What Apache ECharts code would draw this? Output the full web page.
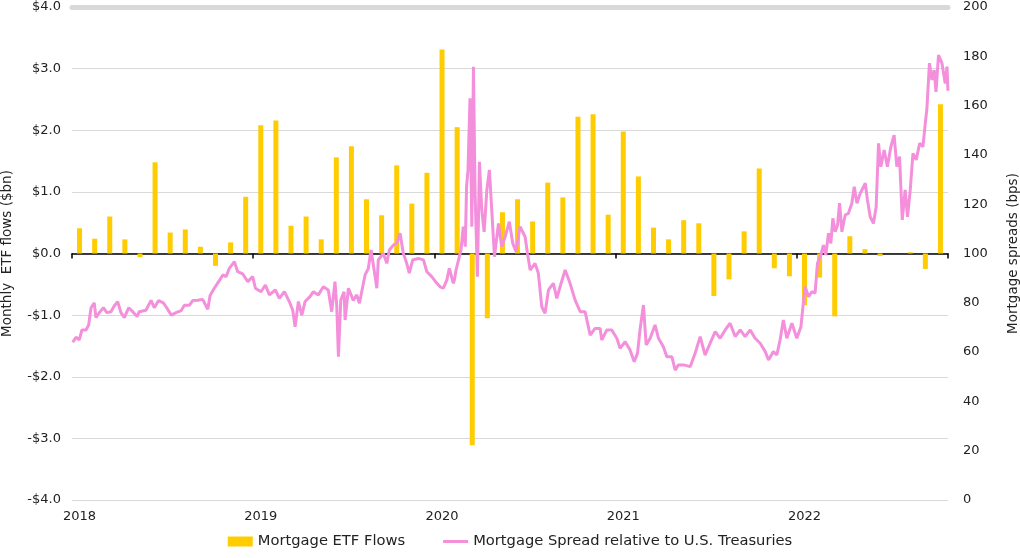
<!DOCTYPE html>
<html>
<head>
<meta charset="utf-8">
<script src="https://cdn.jsdelivr.net/npm/echarts@6/dist/echarts.min.js"></script>
<style>
html,body{margin:0;padding:0;background:#fff;}
#chart{width:1020px;height:558px;}
</style>
</head>
<body>
<div id="chart"></div>
<script>
// Monthly categories Jan 2018 - Oct 2022
const months = [
 '2018-01','2018-02','2018-03','2018-04','2018-05','2018-06','2018-07','2018-08','2018-09','2018-10','2018-11','2018-12',
 '2019-01','2019-02','2019-03','2019-04','2019-05','2019-06','2019-07','2019-08','2019-09','2019-10','2019-11','2019-12',
 '2020-01','2020-02','2020-03','2020-04','2020-05','2020-06','2020-07','2020-08','2020-09','2020-10','2020-11','2020-12',
 '2021-01','2021-02','2021-03','2021-04','2021-05','2021-06','2021-07','2021-08','2021-09','2021-10','2021-11','2021-12',
 '2022-01','2022-02','2022-03','2022-04','2022-05','2022-06','2022-07','2022-08','2022-09','2022-10'
];
// Monthly mortgage ETF flows ($bn)
const etfFlows = [
 0.41, 0.24, 0.60, 0.23, -0.06, 1.48, 0.34, 0.39, 0.11, -0.20, 0.18, 0.92,
 2.08, 2.16, 0.45, 0.60, 0.23, 1.56, 1.74, 0.88, 0.62, 1.43, 0.81, 1.31,
 3.31, 2.05, -3.11, -1.05, 0.67, 0.88, 0.52, 1.15, 0.91, 2.22, 2.26, 0.63,
 1.98, 1.25, 0.42, 0.23, 0.54, 0.49, -0.69, -0.42, 0.36, 1.38, -0.24, -0.37,
 -0.84, -0.39, -1.02, 0.28, 0.07, -0.04, 0.00, 0.02, -0.25, 2.42
];
// Mortgage spread (bps) : [decimal year, value]
const spreadSeries = [
 [2018.004,64],[2018.022,66],[2018.040,65],[2018.055,69],[2018.077,69],[2018.092,71],[2018.105,78],[2018.123,80],
 [2018.132,74],[2018.151,76],[2018.173,78],[2018.192,76],[2018.215,76.4],[2018.233,78.7],[2018.252,80.5],[2018.270,76],
 [2018.289,74],[2018.313,78],[2018.335,76.4],[2018.359,74.4],[2018.371,76.4],[2018.408,77],[2018.436,81],[2018.454,78],
 [2018.478,80.9],[2018.504,80],[2018.519,78.4],[2018.548,75],[2018.574,76],[2018.602,76.8],[2018.620,79],[2018.647,79],
 [2018.666,80.9],[2018.694,81],[2018.721,81.4],[2018.749,77.4],[2018.762,83],[2018.785,85.9],[2018.813,89],[2018.832,91.3],
 [2018.850,90.6],[2018.868,94],[2018.896,96.7],[2018.914,92.6],[2018.942,91.7],[2018.970,88.6],[2018.997,90.6],
 [2019.012,85.9],[2019.043,84.5],[2019.067,87.2],[2019.089,83.2],[2019.122,85.2],[2019.144,81.8],[2019.172,84.5],[2019.199,80.5],
 [2019.218,77],[2019.231,70.3],[2019.249,80.5],[2019.268,75],[2019.286,80.5],[2019.313,82.5],[2019.332,84.5],[2019.359,83.2],
 [2019.387,86.5],[2019.414,85.2],[2019.433,76.4],[2019.451,88.6],[2019.461,78.4],[2019.470,58.1],[2019.483,81.1],[2019.501,84.5],
 [2019.507,73],[2019.525,85.9],[2019.552,81],[2019.571,83.2],[2019.586,79.8],[2019.604,86.5],[2019.617,91.3],[2019.635,94],
 [2019.650,101.4],[2019.667,93.3],[2019.682,85.9],[2019.690,97.4],[2019.718,100],[2019.737,96],[2019.751,101.4],[2019.773,103.4],
 [2019.792,104.1],[2019.810,108.2],[2019.828,100.1],[2019.847,96],[2019.861,92],[2019.880,97.4],[2019.911,98],[2019.939,97.4],
 [2019.958,92.6],[2019.985,90.6],[2020.013,87.9],[2020.031,86.5],[2020.049,85.9],[2020.068,89.2],[2020.082,94],[2020.104,87.9],
 [2020.110,89.2],[2020.119,93.3],[2020.128,93.3],[2020.137,98.7],[2020.146,101.4],[2020.159,110.9],[2020.170,102.8],[2020.177,127.1],
 [2020.185,133.9],[2020.196,163],[2020.206,110.9],[2020.215,175.8],[2020.224,124.4],[2020.237,90.6],[2020.248,137.2],[2020.261,117.6],
 [2020.274,108.8],[2020.289,125.8],[2020.303,133.9],[2020.316,117.6],[2020.331,98.7],[2020.353,112.2],[2020.371,102.8],[2020.390,106.8],
 [2020.413,112.9],[2020.432,104.1],[2020.450,100.7],[2020.472,110.9],[2020.500,106.8],[2020.513,100.1],[2020.528,93.3],[2020.555,96],
 [2020.573,92],[2020.592,78.4],[2020.610,75.7],[2020.629,85.2],[2020.656,87.9],[2020.675,81.8],[2020.693,86.5],[2020.721,93.3],
 [2020.748,87.9],[2020.776,81.1],[2020.804,76.4],[2020.831,76.4],[2020.859,66.9],[2020.886,69.6],[2020.914,69.6],[2020.923,64.9],
 [2020.951,69],[2020.978,69],[2021.006,65.6],[2021.024,61.5],[2021.052,64.2],[2021.079,60.9],[2021.102,56.1],[2021.120,59.5],
 [2021.135,69.6],[2021.153,79.1],[2021.168,62.9],[2021.190,65.6],[2021.217,71],[2021.236,65.6],[2021.263,62.2],[2021.282,58.1],
 [2021.310,58.1],[2021.328,52.7],[2021.346,54.8],[2021.374,54.8],[2021.411,54.1],[2021.438,59.5],[2021.466,66.3],[2021.493,58.8],
 [2021.521,63.6],[2021.549,68.3],[2021.576,65.6],[2021.604,69],[2021.631,71.7],[2021.659,66.3],[2021.687,69],[2021.714,66.3],
 [2021.742,69],[2021.769,65.6],[2021.797,63.6],[2021.825,60.2],[2021.843,56.8],[2021.870,60.2],[2021.889,58.8],[2021.907,65],
 [2021.925,73],[2021.944,65.6],[2021.972,71.7],[2021.999,65.6],[2022.022,70.3],[2022.033,78.4],[2022.045,86.5],[2022.064,82.5],
 [2022.082,84.5],[2022.100,83.9],[2022.113,96],[2022.132,99.4],[2022.146,103.4],[2022.159,99.4],[2022.174,108.2],[2022.187,104.1],
 [2022.198,114.3],[2022.211,108.8],[2022.224,111.6],[2022.235,120.4],[2022.248,108.8],[2022.266,115.6],[2022.284,116.3],[2022.303,120.4],
 [2022.316,127.1],[2022.331,120.4],[2022.349,124.4],[2022.377,128.5],[2022.389,121.7],[2022.404,114.9],[2022.422,112.2],[2022.437,119],
 [2022.450,144.7],[2022.463,135.2],[2022.481,142],[2022.499,135.2],[2022.518,143.3],[2022.536,148],[2022.551,135.2],[2022.566,139.3],
 [2022.581,113.6],[2022.597,125.8],[2022.610,114.9],[2022.625,125.8],[2022.640,140.6],[2022.658,138],[2022.677,144.7],[2022.695,143.3],
 [2022.708,152.8],[2022.717,158.9],[2022.731,177.2],[2022.745,170.4],[2022.757,174.4],[2022.767,165.6],[2022.781,180.5],[2022.800,177.2],
 [2022.818,169],[2022.828,175.8],[2022.833,166]
];
const leftTicks = {min: -4, max: 4, interval: 1};
const rightTicks = {min: 0, max: 200, interval: 20};
const seriesNames = ['Mortgage ETF Flows', 'Mortgage Spread relative to U.S. Treasuries'];

const FONT = 'DejaVu Sans';
const chart = echarts.init(document.getElementById('chart'));
chart.setOption({
  animation: false,
  textStyle: {fontFamily: FONT},
  grid: {left: 72, right: 72, top: 7, bottom: 58, containLabel: false, outerBoundsMode: 'none'},
  legend: {
    bottom: 4, left: 'center', itemWidth: 25, itemHeight: 10, itemGap: 38,
    textStyle: {fontFamily: FONT, fontSize: 14.7, color: '#222'},
    data: [
      {name: seriesNames[0], icon: 'rect'},
      {name: seriesNames[1], icon: 'path://M0,0 L100,0 L100,12 L0,12 Z'}
    ]
  },
  xAxis: [
    {
      type: 'category', data: months, boundaryGap: true,
      axisLine: {onZero: true, onZeroAxisIndex: 0, lineStyle: {color: '#000', width: 1.5}},
      axisTick: {show: true, interval: (i) => i % 12 === 0, length: 5, lineStyle: {color: '#000', width: 1.5}},
      axisLabel: {show: false}, splitLine: {show: false}
    },
    {
      type: 'category', data: months, boundaryGap: true, position: 'bottom',
      axisLine: {show: false, onZero: false}, axisTick: {show: false},
      axisLabel: {interval: (i) => i % 12 === 0, formatter: (v) => v.slice(0, 4), margin: 10, fontSize: 13, color: '#222', fontFamily: FONT},
      splitLine: {show: false}
    },
    {
      type: 'value', min: 2018, max: 2018 + months.length / 12, position: 'top',
      axisLine: {show: true, onZero: false, lineStyle: {color: '#d9d9d9', width: 5}},
      axisTick: {show: false}, axisLabel: {show: false}, splitLine: {show: false}
    }
  ],
  yAxis: [
    {
      type: 'value', min: leftTicks.min, max: leftTicks.max, interval: leftTicks.interval, position: 'left',
      name: 'Monthly  ETF flows ($bn)', nameLocation: 'middle', nameGap: 58, nameRotate: 90,
      nameTextStyle: {fontSize: 13.5, color: '#222', fontFamily: FONT},
      axisLine: {show: false}, axisTick: {show: false},
      axisLabel: {margin: 11, fontSize: 13, color: '#222', fontFamily: FONT,
        formatter: (v) => (v < 0 ? '-$' : '$') + Math.abs(v).toFixed(1)},
      splitLine: {lineStyle: {color: '#d9d9d9', width: 1}}
    },
    {
      type: 'value', min: rightTicks.min, max: rightTicks.max, interval: rightTicks.interval, position: 'right',
      name: 'Mortgage spreads (bps)', nameLocation: 'middle', nameGap: 58, nameRotate: 90,
      nameTextStyle: {fontSize: 13.5, color: '#222', fontFamily: FONT},
      axisLine: {show: false}, axisTick: {show: false},
      axisLabel: {margin: 15, fontSize: 13, color: '#222', fontFamily: FONT},
      splitLine: {show: false}
    }
  ],
  series: [
    {
      name: seriesNames[0], type: 'bar', xAxisIndex: 0, yAxisIndex: 0,
      data: etfFlows, barWidth: 5, itemStyle: {color: '#FFCC00'}, z: 2
    },
    {
      name: seriesNames[1], type: 'line', xAxisIndex: 2, yAxisIndex: 1,
      data: spreadSeries, symbol: 'none', showSymbol: false,
      lineStyle: {color: '#F48FDB', width: 3}, itemStyle: {color: '#F48FDB'}, z: 3
    }
  ]
});
</script>
</body>
</html>
